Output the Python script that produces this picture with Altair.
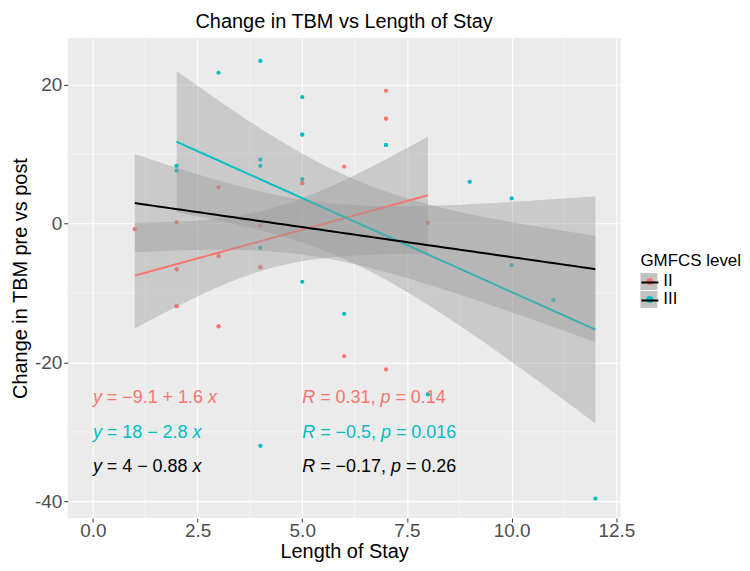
import math
import numpy as np
import pandas as pd
import altair as alt

# ---- data ----
red_x = [1, 2, 2, 2, 3, 3, 3, 4, 4, 5, 6, 6, 7, 7, 7, 8, 2, 3, 7, 8, 1, 2, 4, 5]
red_y = [-0.8, 0.2, -6.6, -11.9, 5.2, -4.7, -14.8, -0.3, -6.3, 5.8, 8.2, -19.1,
         19.1, 15.1, -21.0, 0.1, -11.9, -14.8, 15.1, 0.1, -0.8, -6.6, -6.3, 5.8]
cyan_x = [2, 2, 3, 4, 4, 4, 4, 5, 5, 5, 5, 6, 7, 8, 9, 10, 10, 11, 12, 4, 7, 5, 2, 11]
cyan_y = [8.3, 7.6, 21.7, 23.4, 9.2, 8.3, -3.5, 18.2, 12.8, 6.4, -8.4, -13.0,
          11.3, -24.6, 6.0, 3.6, -6.0, -11.0, -39.6, -32.0, 11.3, 12.8, 8.3, -11.0]

groups = ["II", "III"]
group_colors = ["#F8766D", "#00BFC4"]

# annotation texts: (text, italic) segments
eq_segments = [
    [("y", True), (" = \u22129.1 + 1.6 ", False), ("x", True)],
    [("y", True), (" = 18 \u2212 2.8 ", False), ("x", True)],
    [("y", True), (" = 4 \u2212 0.88 ", False), ("x", True)],
]
cor_segments = [
    [("R", True), (" = 0.31, ", False), ("p", True), (" = 0.14", False)],
    [("R", True), (" = \u22120.5, ", False), ("p", True), (" = 0.016", False)],
    [("R", True), (" = \u22120.17, ", False), ("p", True), (" = 0.26", False)],
]
label_colors = ["#F8766D", "#00BFC4", "#000000"]
eq_label_x = 0
cor_label_x = 5
label_y = [-25.1, -30.1, -35.0]

x_ticks = [0, 2.5, 5, 7.5, 10, 12.5]
y_ticks = [-40, -20, 0, 20]
x_minor = [1.25, 3.75, 6.25, 8.75, 11.25]
y_minor = [-30, -10, 10]

X_DOMAIN = [-0.6, 12.6]
Y_DOMAIN = [-42.4, 26.7]
W, H = 555, 482
FONT = "Liberation Sans"
ANN_SIZE = 18


# ---- linear model with 95% confidence band (like geom_smooth(method="lm")) ----
def t_ppf(p, df):
    c = math.exp(math.lgamma((df + 1) / 2) - math.lgamma(df / 2)) / math.sqrt(df * math.pi)

    def cdf(t):
        xs = np.linspace(0, t, 4001)
        pdf = c * (1 + xs ** 2 / df) ** (-(df + 1) / 2)
        return 0.5 + np.trapezoid(pdf, xs)

    lo, hi = 0.0, 10.0
    for _ in range(60):
        mid = (lo + hi) / 2
        if cdf(mid) < p:
            lo = mid
        else:
            hi = mid
    return (lo + hi) / 2


def fit(xs, ys, name, n_grid=80):
    x = np.array(xs, float)
    y = np.array(ys, float)
    n = len(x)
    xb, yb = x.mean(), y.mean()
    sxx = ((x - xb) ** 2).sum()
    sxy = ((x - xb) * (y - yb)).sum()
    b = sxy / sxx
    a = yb - b * xb
    s = math.sqrt(((y - (a + b * x)) ** 2).sum() / (n - 2))
    t = t_ppf(0.975, n - 2)
    g = np.linspace(x.min(), x.max(), n_grid)
    f = a + b * g
    se = s * np.sqrt(1 / n + (g - xb) ** 2 / sxx)
    return pd.DataFrame({"x": g, "fit": f, "lo": f - t * se, "hi": f + t * se,
                         "group": name, "g2": name})


pts = pd.concat([
    pd.DataFrame({"x": red_x, "y": red_y, "group": "II"}),
    pd.DataFrame({"x": cyan_x, "y": cyan_y, "group": "III"}),
], ignore_index=True)
pts["g3"] = pts["group"]

grp_fit = pd.concat([fit(red_x, red_y, "II"), fit(cyan_x, cyan_y, "III")], ignore_index=True)
all_fit = fit(red_x + cyan_x, red_y + cyan_y, "all")

# ---- annotation text layout (Arial / Liberation Sans advance widths, 1/1000 em) ----
ADV = {" ": 278, "=": 584, "+": 584, "\u2212": 584, ".": 278, ",": 278,
       "y": 500, "x": 500, "R": 722, "p": 556}
px_per_unit = W / (X_DOMAIN[1] - X_DOMAIN[0])


def adv(s):
    return sum(ADV.get(ch, 556) for ch in s) * ANN_SIZE / 1000.0


def seg_rows(segments, x0, yv, col):
    rows = []
    off = 0.0
    for txt, ital in segments:
        lead = txt[: len(txt) - len(txt.lstrip())]
        rows.append({"x": x0 + (off + adv(lead)) / px_per_unit, "y": yv, "t": txt.strip(),
                     "ital": ital, "col": col})
        off += adv(txt)
    return rows


ann_rows = []
for i in range(3):
    ann_rows += seg_rows(eq_segments[i], eq_label_x, label_y[i], label_colors[i])
    ann_rows += seg_rows(cor_segments[i], cor_label_x, label_y[i], label_colors[i])
ann = pd.DataFrame(ann_rows)

xs = alt.Scale(domain=X_DOMAIN, nice=False, zero=False)
ys = alt.Scale(domain=Y_DOMAIN, nice=False, zero=False)

# legend: grey key squares (with title) + coloured dots (with labels) + dark line, stacked
LEG_X, LEG_Y = 575, 216
LEG_TITLE_H = 20
legend_dots = alt.Legend(title=None, orient="none", legendX=LEG_X + 1,
                         legendY=LEG_Y + LEG_TITLE_H,
                         symbolType="circle", symbolSize=50, symbolStrokeWidth=0,
                         labelOffset=5, zindex=2)
color = alt.Color("group:N", scale=alt.Scale(domain=groups, range=group_colors),
                  legend=legend_dots)

xax = alt.Axis(values=x_ticks, format=".1f", title="Length of Stay",
               labelPadding=0, titlePadding=1)
yax = alt.Axis(values=y_ticks, labelExpr="'' + datum.value", title="Change in TBM pre vs post",
               labelPadding=2, titlePadding=4)

minor_x = alt.Chart(pd.DataFrame({"v": x_minor})).mark_rule(color="white", strokeWidth=0.5).encode(
    x=alt.X("v:Q", scale=xs, axis=xax))
minor_y = alt.Chart(pd.DataFrame({"v": y_minor})).mark_rule(color="white", strokeWidth=0.5).encode(
    y=alt.Y("v:Q", scale=ys, axis=yax))

# invisible layer that only provides the grey key background of the legend
key_bg = alt.Chart(pts).mark_point(filled=True, opacity=0, size=1, color="#C2C2C2").encode(
    x=alt.X("x:Q", scale=xs), y=alt.Y("y:Q", scale=ys),
    shape=alt.Shape("g3:N", scale=alt.Scale(range=["square", "square"]),
                    legend=alt.Legend(title="GMFCS level", orient="none", legendX=LEG_X,
                                      legendY=LEG_Y, symbolFillColor="#C2C2C2",
                                      symbolStrokeWidth=0, symbolSize=289, symbolOpacity=1,
                                      labelExpr="''", zindex=1)),
)

points = alt.Chart(pts).mark_circle(size=18, opacity=1).encode(
    x=alt.X("x:Q", scale=xs, axis=xax),
    y=alt.Y("y:Q", scale=ys, axis=yax),
    color=color,
)

bands = alt.Chart(grp_fit).mark_area(color="#999999", opacity=0.4).encode(
    x=alt.X("x:Q", scale=xs), y=alt.Y("lo:Q", scale=ys), y2="hi:Q", detail="group:N")
lines = alt.Chart(grp_fit).mark_line(strokeWidth=2).encode(
    x=alt.X("x:Q", scale=xs), y=alt.Y("fit:Q", scale=ys), color=color,
    strokeDash=alt.StrokeDash("g2:N", scale=alt.Scale(range=[[1, 0], [1, 0]]),
                              legend=alt.Legend(title=None, orient="none",
                                                legendX=LEG_X, legendY=LEG_Y + LEG_TITLE_H,
                                                symbolType="stroke", symbolStrokeColor="black",
                                                symbolStrokeWidth=2, symbolSize=289,
                                                labelExpr="''", zindex=3)),
)

band_all = alt.Chart(all_fit).mark_area(color="#999999", opacity=0.4).encode(
    x=alt.X("x:Q", scale=xs), y=alt.Y("lo:Q", scale=ys), y2="hi:Q")
line_all = alt.Chart(all_fit).mark_line(strokeWidth=2, color="black").encode(
    x=alt.X("x:Q", scale=xs), y=alt.Y("fit:Q", scale=ys))

texts = []
for col in label_colors:
    for ital in (True, False):
        sub = ann[(ann["col"] == col) & (ann["ital"] == ital)][["x", "y", "t"]]
        texts.append(alt.Chart(sub).mark_text(
            align="left", baseline="middle", fontSize=ANN_SIZE, font=FONT, color=col,
            fontStyle="italic" if ital else "normal").encode(
            x=alt.X("x:Q", scale=xs), y=alt.Y("y:Q", scale=ys), text="t:N"))

chart = alt.layer(minor_x, minor_y, key_bg, points, bands, lines, band_all, line_all,
                  *texts).properties(
    width=W, height=H,
    title=alt.TitleParams("Change in TBM vs Length of Stay", fontSize=20, fontWeight="normal",
                          font=FONT, anchor="middle", color="black", offset=6),
    padding={"left": 2, "top": 2, "right": 0, "bottom": 0},
).configure_view(fill="#EBEBEB", strokeWidth=0).configure_axis(
    domain=False, grid=True, gridColor="white", gridWidth=1.1,
    labelFont=FONT, labelFontSize=19, labelColor="#4D4D4D",
    tickColor="#333333", tickSize=4, titleFont=FONT, titleFontSize=20,
    titleFontWeight="normal", titleColor="black",
).configure_legend(
    titleFont=FONT, titleFontSize=17, titleFontWeight="normal", titleColor="black",
    titlePadding=3, labelFont=FONT, labelFontSize=17, labelColor="black",
    rowPadding=0, padding=0,
)

chart.save("out.html", embed_options={"renderer": "svg", "actions": False})
